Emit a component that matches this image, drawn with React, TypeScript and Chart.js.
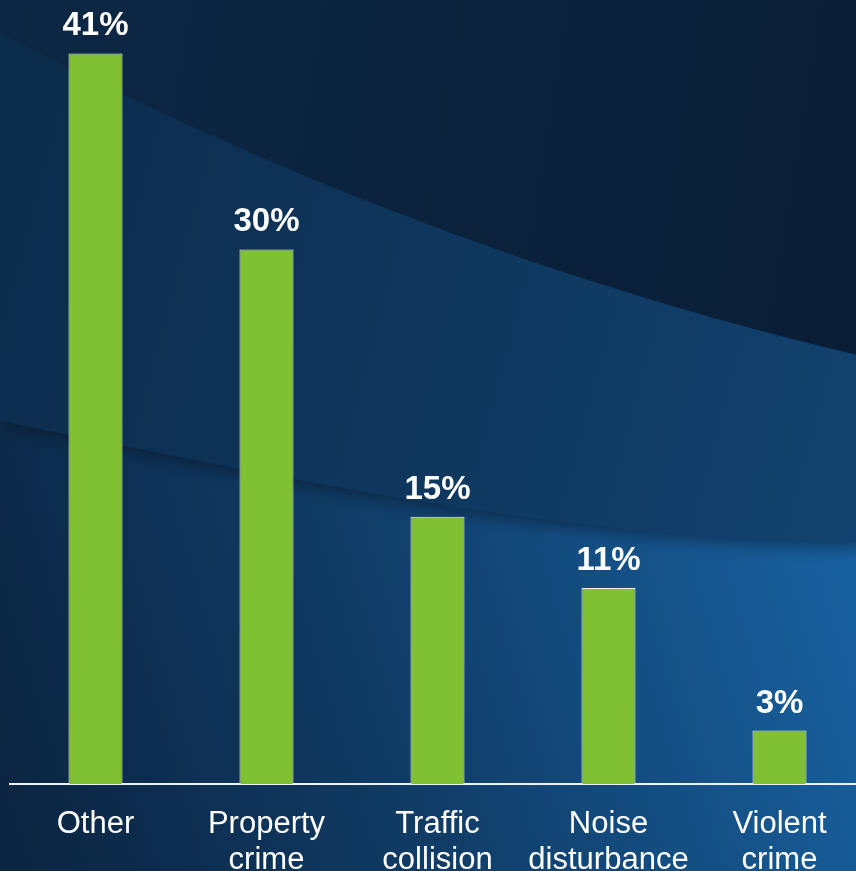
import React, { useEffect, useRef } from "react";
import { Chart, registerables } from "chart.js";

Chart.register(...registerables);

const categories: (string | string[])[] = [
  "Other",
  ["Property", "crime"],
  ["Traffic", "collision"],
  ["Noise", "disturbance"],
  ["Violent", "crime"],
];
const shares: number[] = [41, 30, 15, 11, 3];
const shareLabels: string[] = ["41%", "30%", "15%", "11%", "3%"];

const backgroundPlugin = {
  id: "swooshBackground",
  beforeDraw(chart: any) {
    const { ctx, width, height } = chart;
    ctx.save();
    // lower region
    let g = ctx.createLinearGradient(0, 820, width, 560);
    g.addColorStop(0, "#0b2441");
    g.addColorStop(0.45, "#103c66");
    g.addColorStop(1, "#1862a2");
    ctx.fillStyle = g;
    ctx.fillRect(0, 0, width, height);

    // middle band (above curve 2)
    ctx.beginPath();
    ctx.moveTo(0, 0);
    ctx.lineTo(0, 421);
    ctx.bezierCurveTo(250, 470, 550, 540, width, 543);
    ctx.lineTo(width, 0);
    ctx.closePath();
    g = ctx.createLinearGradient(0, 250, width, 480);
    g.addColorStop(0, "#0c2c4c");
    g.addColorStop(1, "#12426f");
    ctx.fillStyle = g;
    ctx.save();
    ctx.shadowColor = "rgba(3,12,25,0.5)";
    ctx.shadowBlur = 18;
    ctx.shadowOffsetY = 4;
    ctx.fill();
    ctx.restore();

    // top region (above curve 1)
    ctx.beginPath();
    ctx.moveTo(0, 0);
    ctx.lineTo(0, 33);
    ctx.bezierCurveTo(150, 110, 450, 260, width, 357);
    ctx.lineTo(width, 0);
    ctx.closePath();
    g = ctx.createLinearGradient(0, 60, width, 200);
    g.addColorStop(0, "#0c2745");
    g.addColorStop(1, "#0a1e36");
    ctx.fillStyle = g;
    ctx.fill();
    ctx.restore();
  },
};

const valueLabelPlugin = {
  id: "valueLabels",
  afterDatasetsDraw(chart: any) {
    const { ctx } = chart;
    const meta = chart.getDatasetMeta(0);
    ctx.save();
    ctx.fillStyle = "#ffffff";
    ctx.font = "bold 33px 'Liberation Sans', Arial, sans-serif";
    ctx.textAlign = "center";
    ctx.textBaseline = "alphabetic";
    meta.data.forEach((bar: any, i: number) => {
      ctx.fillText(shareLabels[i], bar.x, bar.y - 18);
    });
    ctx.restore();
  },
};

export default function App() {
  const canvasRef = useRef<HTMLCanvasElement | null>(null);

  useEffect(() => {
    if (!canvasRef.current) return;
    const chart = new Chart(canvasRef.current, {
      type: "bar",
      data: {
        labels: categories,
        datasets: [
          {
            data: shares,
            backgroundColor: "#80c133",
            borderColor: "#eef4ea",
            borderWidth: 1,
            borderSkipped: "bottom",
            categoryPercentage: 1,
            barPercentage: 0.316,
          },
        ],
      },
      options: {
        animation: false,
        responsive: false,
        devicePixelRatio: 1,
        layout: { padding: { left: 10, right: 1, top: 0, bottom: 0 } },
        plugins: {
          legend: { display: false },
          tooltip: { enabled: false },
        },
        scales: {
          x: {
            grid: { display: false, drawTicks: false },
            border: { display: true, color: "#eef3f8", width: 2 },
            ticks: {
              color: "#ffffff",
              font: { family: "'Liberation Sans', Arial, sans-serif", size: 31, lineHeight: 1.15 },
              padding: 23,
              autoSkip: false,
              maxRotation: 0,
              minRotation: 0,
            },
            afterFit: (scale: any) => {
              scale.height = 87;
            },
          },
          y: {
            display: false,
            min: 0,
            max: 44,
          },
        },
      },
      plugins: [backgroundPlugin, valueLabelPlugin],
    });
    return () => chart.destroy();
  }, []);

  return (
    <div
      style={{
        position: "absolute",
        left: 0,
        top: 0,
        width: 856,
        height: 871,
        overflow: "hidden",
        background: "#0b2440",
      }}
    >
      <canvas ref={canvasRef} width={866} height={871} style={{ display: "block" }} />
    </div>
  );
}
